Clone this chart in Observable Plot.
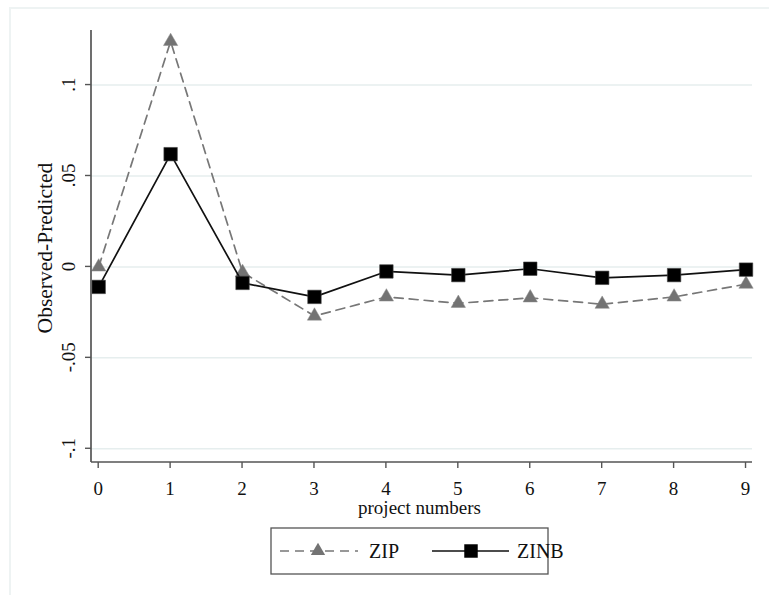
<!DOCTYPE html>
<html><head><meta charset="utf-8">
<script src="https://cdn.jsdelivr.net/npm/d3@7"></script>
<script src="https://cdn.jsdelivr.net/npm/@observablehq/plot@0.6"></script>
<style>
html,body{margin:0;padding:0;background:#fff;}
#wrap{position:relative;width:769px;height:595px;overflow:hidden;}
#frame{position:absolute;left:9px;top:7px;right:0;bottom:0;border-left:2px solid #eef3f3;border-top:2px solid #eef3f3;}
#chart{position:absolute;left:0;top:0;}
#legend{position:absolute;left:0;top:0;}
#legend text{font-family:"Liberation Serif","Times New Roman",serif;fill:#111;}
</style></head>
<body><div id="wrap"><div id="frame"></div><div id="chart"></div><svg id="legend" width="769" height="595"></svg></div>
<script>
const projects = [0,1,2,3,4,5,6,7,8,9];
const zip  = [0.000, 0.124, -0.003, -0.027, -0.0165, -0.020, -0.017, -0.0205, -0.0165, -0.0095];
const zinb = [-0.011, 0.062, -0.0088, -0.0165, -0.0025, -0.0045, -0.001, -0.006, -0.0045, -0.0015];
const yTicks = [-0.1, -0.05, 0, 0.05, 0.1];
const yTickLabels = ["-.1", "-.05", "0", ".05", ".1"];
const seriesNames = ["ZIP", "ZINB"];

const zipData = projects.map((p,i)=>({p, v: zip[i]}));
const zinbData = projects.map((p,i)=>({p, v: zinb[i]}));

const axisColor = "#555";
const plot = Plot.plot({
  width: 769, height: 461,
  marginLeft: 91, marginRight: 17, marginTop: 30, marginBottom: 0,
  style: {background: "transparent"},
  x: {domain: [-0.1, 9.09], axis: null},
  y: {domain: [-0.107, 0.13], axis: null},
  marks: [
    Plot.ruleY(yTicks, {stroke: "#e6eeee", strokeWidth: 1.5}),
    Plot.line(zipData, {x: "p", y: "v", stroke: "#777", strokeWidth: 1.7, strokeDasharray: "9,6"}),
    Plot.dot(zipData, {x: "p", y: "v", symbol: "triangle", r: 5.3, fill: "#737373", stroke: "#8a8a8a", strokeWidth: 0.5}),
    Plot.line(zinbData, {x: "p", y: "v", stroke: "#111", strokeWidth: 1.7}),
    Plot.dot(zinbData, {x: "p", y: "v", symbol: "square", r: 7.6, fill: "#000", stroke: "#444", strokeWidth: 0.6}),
  ]
});
document.getElementById("chart").appendChild(plot);

const xs = plot.scale("x"), ys = plot.scale("y");
const svg = d3.select("#legend");
const g = svg.append("g");
const x0 = xs.range[0], x1 = xs.range[1];
const yTop = ys.range[1], yBot = ys.range[0];
g.append("line").attr("x1", x0).attr("x2", x0).attr("y1", yTop).attr("y2", yBot+1).attr("stroke", axisColor).attr("stroke-width", 1.7);
g.append("line").attr("x1", x0).attr("x2", x1).attr("y1", yBot+1).attr("y2", yBot+1).attr("stroke", axisColor).attr("stroke-width", 1.7);
yTicks.forEach((t,i)=>{
  const y = ys.apply(t);
  g.append("line").attr("x1", x0-6).attr("x2", x0).attr("y1", y).attr("y2", y).attr("stroke", axisColor).attr("stroke-width", 1.4);
  g.append("text").attr("transform", `translate(${x0-16},${y}) rotate(-90)`).attr("text-anchor","middle").style("font-size","19px").text(yTickLabels[i]);
});
projects.forEach(p=>{
  const x = xs.apply(p);
  g.append("line").attr("x1", x).attr("x2", x).attr("y1", yBot+1).attr("y2", yBot+7).attr("stroke", axisColor).attr("stroke-width", 1.4);
  g.append("text").attr("x", x).attr("y", yBot+34).attr("text-anchor","middle").style("font-size","19px").text(String(p));
});
g.append("text").attr("x", (x0+x1)/2 - 2).attr("y", 514).attr("text-anchor","middle").style("font-size","19px").text("project numbers");
g.append("text").attr("transform", `translate(52,248) rotate(-90)`).attr("text-anchor","middle").style("font-size","21.5px").text("Observed-Predicted");

const lg = svg.append("g");
lg.append("rect").attr("x", 271).attr("y", 528).attr("width", 277).attr("height", 46).attr("fill","none").attr("stroke","#555").attr("stroke-width",1.3);
lg.append("line").attr("x1", 280).attr("x2", 358).attr("y1", 551).attr("y2", 551).attr("stroke","#777").attr("stroke-width",1.7).attr("stroke-dasharray","9,6");
lg.append("path").attr("d", d3.symbol(d3.symbolTriangle, Math.PI*5.3*5.3)()).attr("transform","translate(318,551)").attr("fill","#737373");
lg.append("text").attr("x", 369).attr("y", 558).style("font-size","20px").text(seriesNames[0]);
lg.append("line").attr("x1", 432).attr("x2", 509).attr("y1", 551).attr("y2", 551).attr("stroke","#111").attr("stroke-width",1.7);
lg.append("path").attr("d", d3.symbol(d3.symbolSquare, Math.PI*7.6*7.6)()).attr("transform","translate(471,551)").attr("fill","#000");
lg.append("text").attr("x", 517).attr("y", 558).style("font-size","20px").text(seriesNames[1]);
</script></body></html>
